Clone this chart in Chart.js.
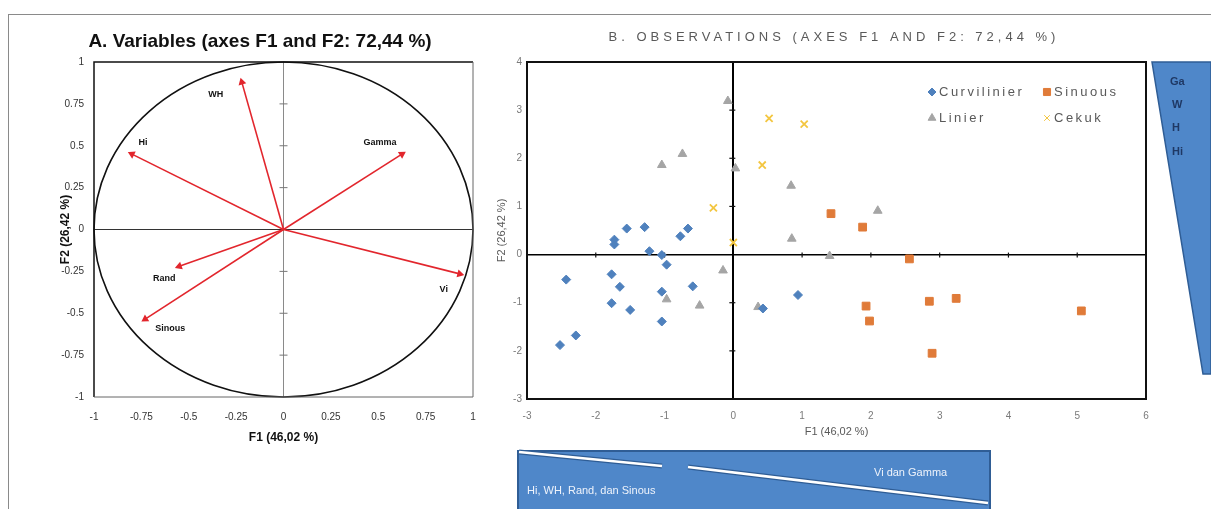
<!DOCTYPE html>
<html>
<head>
<meta charset="utf-8">
<title>ACP - variables et observations</title>
<script src="https://cdn.jsdelivr.net/npm/chart.js@4.4.0/dist/chart.umd.min.js"></script>
<style>
  html, body { margin: 0; padding: 0; background: #fff; }
  body { width: 1211px; height: 509px; position: relative; overflow: hidden; font-family: "Liberation Sans", Arial, sans-serif; }
  .frame { position: absolute; left: 8px; top: 14px; width: 1210px; height: 500px; border-top: 1px solid #8a8a8a; border-left: 1px solid #8a8a8a; }
  #wrapA { position: absolute; left: 10px; top: 10px; width: 494px; height: 440px; }
  #wrapB { position: absolute; left: 490px; top: 10px; width: 670px; height: 440px; }
  svg.deco { position: absolute; left: 0; top: 0; }
</style>
</head>
<body>
<div class="frame"></div>
<div id="wrapA"><canvas id="chartA"></canvas></div>
<div id="wrapB"><canvas id="chartB"></canvas></div>

<svg class="deco" width="1211" height="509">
  <polygon points="1152,62 1211,62 1211,374 1203,374" fill="#4f87c9" stroke="#2f5d95" stroke-width="1.5"/>
  <g font-family="Liberation Sans, Arial, sans-serif" font-size="11" font-weight="bold" fill="#1f3864">
    <text x="1170" y="85">Ga</text>
    <text x="1172" y="108">W</text>
    <text x="1172" y="131">H</text>
    <text x="1172" y="155">Hi</text>
  </g>
  <rect x="518" y="451" width="472" height="64" fill="#4f87c9" stroke="#2f5d95" stroke-width="2"/>
  <line x1="519" y1="452" x2="662" y2="466" stroke="#2f5d95" stroke-width="5"/>
  <line x1="519" y1="452" x2="662" y2="466" stroke="#ffffff" stroke-width="2.5"/>
  <line x1="688" y1="467" x2="988" y2="503" stroke="#2f5d95" stroke-width="5"/>
  <line x1="688" y1="467" x2="988" y2="503" stroke="#ffffff" stroke-width="2.5"/>
  <g font-family="Liberation Sans, Arial, sans-serif" font-size="11" fill="#eef3fb">
    <text x="527" y="494">Hi, WH, Rand, dan Sinous</text>
    <text x="874" y="476">Vi dan Gamma</text>
  </g>
</svg>

<script>
// ---- A. Variables (correlation circle) ----
const variableNames = ['WH', 'Hi', 'Gamma', 'Vi', 'Rand', 'Sinous'];
const variableF1 = [-0.22, -0.80, 0.625, 0.93, -0.55, -0.73];
const variableF2 = [0.88, 0.45, 0.45, -0.265, -0.22, -0.535];
const circleTicks = [-1, -0.75, -0.5, -0.25, 0, 0.25, 0.5, 0.75, 1];

// ---- B. Observations ----
const groupNames = ['Curvilinier', 'Sinuous', 'Linier', 'Cekuk'];
const curvilinierF1 = [-1.55, -1.29, -1.73, -1.73, -0.77, -0.66, -1.22, -1.04, -0.97, -2.43, -1.77, -1.65, -1.77, -1.50, -1.04, -0.59, -1.04, -2.29, -2.52, 0.94, 0.43];
const curvilinierF2 = [0.54, 0.57, 0.31, 0.21, 0.38, 0.54, 0.07, -0.01, -0.21, -0.52, -0.41, -0.67, -1.01, -1.15, -0.77, -0.66, -1.39, -1.68, -1.88, -0.84, -1.12];
const sinuousF1 = [1.42, 1.88, 2.56, 1.93, 1.98, 2.85, 3.24, 2.89, 5.06];
const sinuousF2 = [0.85, 0.57, -0.09, -1.07, -1.38, -0.97, -0.91, -2.05, -1.17];
const linierF1 = [-0.08, -0.74, -1.04, 0.03, 0.84, 2.10, 0.85, 1.40, -0.15, -0.49, -0.97, 0.36];
const linierF2 = [3.19, 2.09, 1.86, 1.79, 1.43, 0.91, 0.33, -0.03, -0.33, -1.06, -0.93, -1.09];
const cekukF1 = [0.52, 1.03, 0.42, -0.29, 0.0];
const cekukF2 = [2.83, 2.71, 1.86, 0.97, 0.25];
const obsTicksX = [-3, -2, -1, 0, 1, 2, 3, 4, 5, 6];
const obsTicksY = [-3, -2, -1, 0, 1, 2, 3, 4];

Chart.defaults.font.family = '"Liberation Sans", Arial, sans-serif';
Chart.defaults.animation = false;

function toPoints(xs, ys) {
    return xs.map((x, i) => ({ x: x, y: ys[i] }));
}

// label offsets (pixels) for the variable names, same order as variableNames
const labelOffsets = [[-26, 12], [11, -12], [-22, -12], [-16, 16], [-15, 12], [25, 9]];

const circlePlugin = {
    id: 'circlePlugin',
    beforeDatasetsDraw(chart) {
        const { ctx, chartArea: a, scales: { x, y } } = chart;
        ctx.save();
        // ticks along the vertical zero line
        ctx.strokeStyle = '#777';
        ctx.lineWidth = 1;
        const x0 = x.getPixelForValue(0);
        circleTicks.forEach(v => {
            if (v === 0 || Math.abs(v) === 1) return;
            const py = y.getPixelForValue(v);
            ctx.beginPath();
            ctx.moveTo(x0 - 4, py);
            ctx.lineTo(x0 + 4, py);
            ctx.stroke();
        });
        // unit circle
        ctx.strokeStyle = '#111';
        ctx.lineWidth = 1.6;
        ctx.beginPath();
        ctx.ellipse(x0, y.getPixelForValue(0),
            x.getPixelForValue(1) - x0, y.getPixelForValue(0) - y.getPixelForValue(1), 0, 0, Math.PI * 2);
        ctx.stroke();
        // frame: dark left/top, lighter right/bottom
        ctx.lineWidth = 1.5;
        ctx.strokeStyle = '#111';
        ctx.beginPath();
        ctx.moveTo(a.left, a.bottom); ctx.lineTo(a.left, a.top); ctx.lineTo(a.right, a.top);
        ctx.stroke();
        ctx.lineWidth = 1;
        ctx.strokeStyle = '#666';
        ctx.beginPath();
        ctx.moveTo(a.right, a.top); ctx.lineTo(a.right, a.bottom); ctx.lineTo(a.left, a.bottom);
        ctx.stroke();
        ctx.restore();
    },
    afterDatasetsDraw(chart) {
        const { ctx, scales: { x, y } } = chart;
        ctx.save();
        ctx.font = 'bold 9px "Liberation Sans", Arial, sans-serif';
        ctx.fillStyle = '#111';
        ctx.textAlign = 'center';
        ctx.textBaseline = 'middle';
        variableNames.forEach((name, i) => {
            const px = x.getPixelForValue(variableF1[i]);
            const py = y.getPixelForValue(variableF2[i]);
            ctx.fillText(name, px + labelOffsets[i][0], py + labelOffsets[i][1]);
        });
        // chart title
        ctx.font = 'bold 19px "Liberation Sans", Arial, sans-serif';
        ctx.fillText('A. Variables (axes F1 and F2: 72,44 %)', 250, 32);
        ctx.restore();
    }
};

const vectorSets = variableNames.map((name, i) => ({
    label: name,
    data: [{ x: 0, y: 0 }, { x: variableF1[i], y: variableF2[i] }],
    showLine: true,
    borderColor: '#e2262d',
    backgroundColor: '#e2262d',
    borderWidth: 1.6,
    pointStyle: 'triangle',
    pointRadius: c => c.dataIndex === 1 ? 3 : 0,
    rotation: c => {
        const xs = c.chart.scales.x, ys = c.chart.scales.y;
        const dx = xs.getPixelForValue(variableF1[i]) - xs.getPixelForValue(0);
        const dy = ys.getPixelForValue(variableF2[i]) - ys.getPixelForValue(0);
        return Math.atan2(dx, -dy) * 180 / Math.PI;
    }
}));

new Chart(document.getElementById('chartA'), {
    type: 'scatter',
    data: { datasets: vectorSets },
    options: {
        responsive: true,
        maintainAspectRatio: false,
        layout: { padding: { top: 52, right: 31 } },
        plugins: {
            legend: { display: false },
            tooltip: { enabled: false }
        },
        scales: {
            x: {
                min: -1, max: 1,
                afterBuildTicks: s => { s.ticks = circleTicks.map(v => ({ value: v })); },
                afterFit: s => { s.height = 53; },
                border: { display: false },
                grid: {
                    drawTicks: false,
                    color: c => c.tick && c.tick.value === 0 ? '#8a8a8a' : 'transparent'
                },
                ticks: { color: '#333', font: { size: 10 }, padding: 14, callback: v => String(v) },
                title: { display: true, text: 'F1 (46,02 %)', color: '#111', font: { size: 12, weight: 'bold' }, padding: { bottom: 5 } }
            },
            y: {
                min: -1, max: 1,
                afterBuildTicks: s => { s.ticks = circleTicks.map(v => ({ value: v })); },
                afterFit: s => { s.width = 84; },
                border: { display: false },
                grid: {
                    drawTicks: false,
                    color: c => c.tick && c.tick.value === 0 ? '#333' : 'transparent'
                },
                ticks: { color: '#333', font: { size: 10 }, padding: 10, callback: v => String(v) },
                title: { display: true, text: 'F2 (26,42 %)', color: '#111', font: { size: 12, weight: 'bold' }, padding: { top: 48 } }
            }
        }
    },
    plugins: [circlePlugin]
});

// ---- B chart ----
const legendItems = [
    { name: groupNames[0], style: 'rectRot', color: '#4f81bd', radius: 4, col: 0, row: 0 },
    { name: groupNames[1], style: 'rect', color: '#e07b39', radius: 5, col: 1, row: 0 },
    { name: groupNames[2], style: 'triangle', color: '#a5a5a5', radius: 4.5, col: 0, row: 1 },
    { name: groupNames[3], style: 'crossRot', color: '#f3c640', radius: 4, col: 1, row: 1 }
];

const obsPlugin = {
    id: 'obsPlugin',
    beforeDatasetsDraw(chart) {
        const { ctx, chartArea: a, scales: { x, y } } = chart;
        ctx.save();
        const x0 = x.getPixelForValue(0), y0 = y.getPixelForValue(0);
        ctx.strokeStyle = '#111';
        ctx.lineWidth = 1.2;
        obsTicksX.forEach(v => {
            if (v === 0) return;
            const px = x.getPixelForValue(v);
            ctx.beginPath(); ctx.moveTo(px, y0 - 2); ctx.lineTo(px, y0 + 3); ctx.stroke();
        });
        obsTicksY.forEach(v => {
            if (v === 0) return;
            const py = y.getPixelForValue(v);
            ctx.beginPath(); ctx.moveTo(x0 - 4, py); ctx.lineTo(x0 + 2, py); ctx.stroke();
        });
        ctx.strokeStyle = '#111';
        ctx.lineWidth = 2;
        ctx.strokeRect(a.left, a.top, a.right - a.left, a.bottom - a.top);
        ctx.restore();
    },
    afterDraw(chart) {
        const { ctx, chartArea: a } = chart;
        ctx.save();
        ctx.letterSpacing = '4px';
        ctx.font = '13px "Liberation Sans", Arial, sans-serif';
        ctx.fillStyle = '#595959';
        ctx.textAlign = 'center';
        ctx.textBaseline = 'middle';
        ctx.fillText('B. OBSERVATIONS (AXES F1 AND F2: 72,44 %)', 344, 27);
        // legend, two columns
        ctx.letterSpacing = '2.5px';
        ctx.textAlign = 'left';
        ctx.font = '13px "Liberation Sans", Arial, sans-serif';
        legendItems.forEach(it => {
            const mx = a.left + 405 + it.col * 115;
            const my = a.top + 30 + it.row * 26;
            ctx.fillStyle = it.color;
            ctx.strokeStyle = it.color;
            Chart.helpers.drawPoint(ctx, {
                pointStyle: it.style, radius: it.radius, rotation: 0, borderWidth: 1.5
            }, mx, my);
            ctx.fillStyle = '#595959';
            ctx.fillText(it.name, mx + 7, my);
        });
        ctx.restore();
    }
};

function obsSet(name, xs, ys, style, color, radius) {
    return {
        label: name,
        data: toPoints(xs, ys),
        pointStyle: style,
        pointRadius: radius,
        backgroundColor: color,
        borderColor: color,
        borderWidth: style === 'crossRot' ? 1.8 : 1
    };
}

new Chart(document.getElementById('chartB'), {
    type: 'scatter',
    data: {
        datasets: [
            obsSet(groupNames[0], curvilinierF1, curvilinierF2, 'rectRot', '#4f81bd', 4.5),
            obsSet(groupNames[1], sinuousF1, sinuousF2, 'rect', '#e07b39', 5.5),
            obsSet(groupNames[2], linierF1, linierF2, 'triangle', '#a5a5a5', 5),
            obsSet(groupNames[3], cekukF1, cekukF2, 'crossRot', '#f3c640', 5)
        ]
    },
    options: {
        responsive: true,
        maintainAspectRatio: false,
        layout: { padding: { top: 52, right: 14 } },
        plugins: {
            legend: { display: false },
            tooltip: { enabled: false }
        },
        scales: {
            x: {
                min: -3, max: 6,
                afterBuildTicks: s => { s.ticks = obsTicksX.map(v => ({ value: v })); },
                afterFit: s => { s.height = 51; },
                border: { display: false },
                grid: {
                    drawTicks: false,
                    color: c => c.tick && c.tick.value === 0 ? '#000' : 'transparent',
                    lineWidth: 2
                },
                ticks: { color: '#7a7a7a', font: { size: 10 }, padding: 11 },
                title: { display: true, text: 'F1 (46,02 %)', color: '#595959', font: { size: 11 }, padding: { bottom: 11 } }
            },
            y: {
                min: -3, max: 4,
                afterBuildTicks: s => { s.ticks = obsTicksY.map(v => ({ value: v })); },
                afterFit: s => { s.width = 37; },
                border: { display: false },
                grid: {
                    drawTicks: false,
                    color: c => c.tick && c.tick.value === 0 ? '#000' : 'transparent',
                    lineWidth: 1.5
                },
                ticks: { color: '#7a7a7a', font: { size: 10 }, padding: 5 },
                title: { display: true, text: 'F2 (26,42 %)', color: '#595959', font: { size: 11 }, padding: { top: 5 } }
            }
        }
    },
    plugins: [obsPlugin]
});
</script>
</body>
</html>
